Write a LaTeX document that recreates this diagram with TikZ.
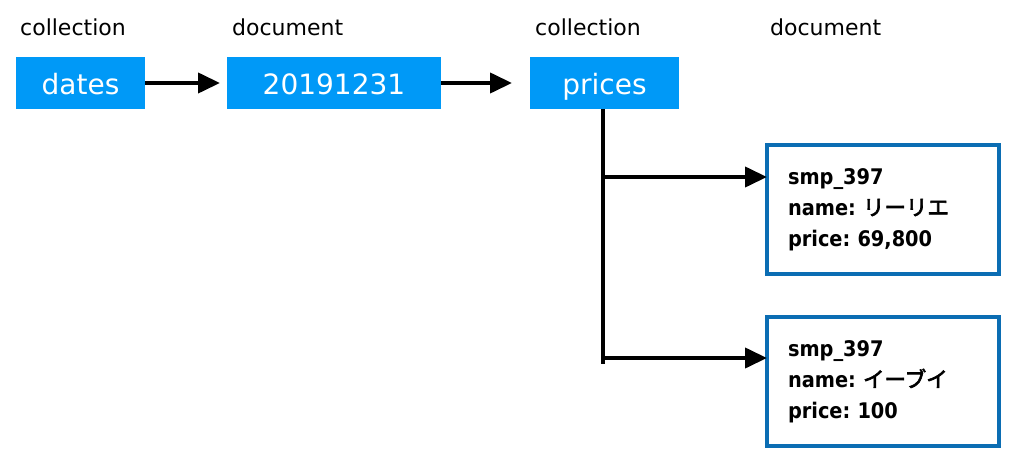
\documentclass[tikz,border=0pt]{standalone}
\usepackage{fontspec}
\setmainfont{DejaVu Sans}
\newfontfamily\semib{DejaVu Sans Condensed}[UprightFont=* Bold]
\newfontfamily\jp{Noto Sans CJK JP}[FakeBold=3]
\usetikzlibrary{arrows.meta}
\definecolor{fillblue}{HTML}{0099F7}
\definecolor{edgeblue}{HTML}{0B6DB3}
\frenchspacing
\tikzset{
  lbl/.style={anchor=west, inner sep=0pt, font=\fontsize{22}{26}\selectfont},
  colbox/.style={fill=fillblue, text=white, minimum height=52pt, text height=25pt, text depth=1pt, inner sep=0pt, outer sep=0pt, anchor=north west, font=\fontsize{28}{32}\selectfont},
  docbox/.style={draw=edgeblue, line width=4pt, minimum width=232pt, minimum height=129pt, text width=190pt, inner xsep=21pt, inner ysep=0pt, outer sep=0pt, align=left, anchor=north west, font=\semib\fontsize{21.5}{31}\selectfont},
  conn/.style={line width=4pt, -{Triangle[length=22pt,width=20pt]}},
  trunk/.style={line width=4pt}
}
\begin{document}
\begin{tikzpicture}[x=1pt,y=-1pt]
\useasboundingbox (0,0) rectangle (1024,465);
\node[lbl] (l1) at (20,27) {collection};
\node[lbl] (l2) at (232,27) {document};
\node[lbl] (l3) at (535,27) {collection};
\node[lbl] (l4) at (770,27) {document};
\node[colbox, minimum width=129pt] (dates) at (16,57) {dates};
\node[colbox, minimum width=214pt] (doc) at (227,57) {20191231};
\node[colbox, minimum width=149pt] (prices) at (530,57) {prices};
\coordinate (e1) at (220,83);
\coordinate (e2) at (512,83);
\draw[conn] (dates.east) -- (e1);
\draw[conn] (doc.east) -- (e2);
\node[docbox] (d1) at (767,145) {smp\_397\\name: {\jp リーリエ}\\price: 69,800};
\node[docbox] (d2) at (767,317) {smp\_397\\name: {\jp イーブイ}\\price: 100};
\coordinate (tb) at (603,109);
\coordinate (te) at (603,364);
\coordinate (b1) at (603,177);
\coordinate (b2) at (603,358);
\draw[trunk] (tb) -- (te);
\draw[conn] (b1) -- (b1 -| d1.west);
\draw[conn] (b2) -- (b2 -| d2.west);
\end{tikzpicture}
\end{document}
